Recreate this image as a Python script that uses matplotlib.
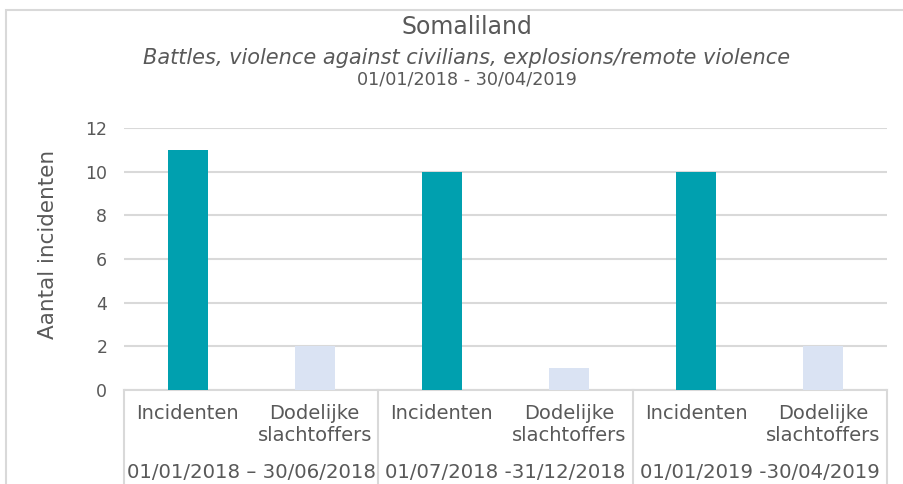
import matplotlib.pyplot as plt
import matplotlib.transforms as mtransforms
from matplotlib.patches import Rectangle
import numpy as np

# Data
periodes = ["01/01/2018 \u2013 30/06/2018", "01/07/2018 -31/12/2018", "01/01/2019 -30/04/2019"]
categorieen = ["Incidenten", "Dodelijke\nslachtoffers"]
incidenten = [11, 10, 10]
slachtoffers = [2, 1, 2]

grijs = "#595959"
lijn = "#D9D9D9"
teal = "#00A0AF"
lichtblauw = "#DAE3F3"

plt.rcParams['font.family'] = ['DejaVu Sans']

W, H = 904, 484
fig = plt.figure(figsize=(W / 100, H / 100), dpi=100)
ax = fig.add_axes([124 / W, 1 - 390 / H, (887 - 124) / W, (390 - 128) / H])

# rand rond de grafiek (rechts en onder buiten beeld)
fig.patches.append(Rectangle((6.5 / W, -0.3), 1.5, 1 - 9.5 / H + 0.3,
                             transform=fig.transFigure, fill=False,
                             edgecolor=lijn, linewidth=1.5))

n = len(periodes)
x_inc = np.arange(n) * 2
x_sla = x_inc + 1
ax.bar(x_inc, incidenten, width=0.315, color=teal, zorder=3)
ax.bar(x_sla, slachtoffers, width=0.315, color=lichtblauw, zorder=3)

ax.set_xlim(-0.5, 2 * n - 0.5)
ax.set_ylim(0, 12)
ax.set_yticks(range(0, 13, 2))
ax.yaxis.grid(True, color=lijn, linewidth=1.5, zorder=0)
ax.tick_params(axis='y', length=0, pad=12, labelsize=12.5, labelcolor=grijs)

ticks = []
labels = []
for i in range(n):
    ticks += [x_inc[i], x_sla[i]]
    labels += categorieen
ax.set_xticks(ticks)
ax.set_xticklabels(labels, linespacing=1.2, va='top')
ax.tick_params(axis='x', length=0, pad=10, labelsize=14, labelcolor=grijs)

for s in ax.spines.values():
    s.set_visible(False)

# meerdere niveaus op de x-as
trans = mtransforms.blended_transform_factory(ax.transData, ax.transAxes)
ax.plot([-0.5, 2 * n - 0.5], [0, 0], color=lijn, linewidth=1.5, transform=trans, clip_on=False)
for g in range(n + 1):
    xg = g * 2 - 0.5
    ax.plot([xg, xg], [0, -0.5], color=lijn, linewidth=1.5, transform=trans, clip_on=False)
for i, p in enumerate(periodes):
    ax.text(i * 2 + 0.5, -(472 - 390) / 262, p, transform=trans, ha='center', va='center',
            fontsize=14.2, color=grijs)

fig.text(48 / W, 1 - 244 / H, "Aantal incidenten", rotation=90, ha='center', va='center',
         fontsize=15.5, color=grijs)

xc = 467 / W
fig.text(xc, 1 - 27 / H, "Somaliland", ha='center', va='center', fontsize=17, color=grijs)
fig.text(xc, 1 - 58 / H, "Battles, violence against civilians, explosions/remote violence",
         ha='center', va='center', fontsize=15, style='italic', color=grijs)
fig.text(xc, 1 - 80 / H, "01/01/2018 - 30/04/2019", ha='center', va='center',
         fontsize=12.7, color=grijs)

fig.savefig("out.png", dpi=100)
